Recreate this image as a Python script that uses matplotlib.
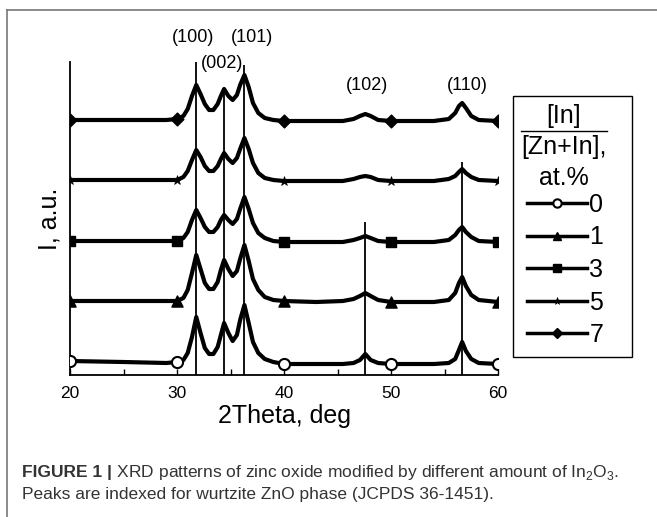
import matplotlib
matplotlib.use('Agg')
import matplotlib.pyplot as plt
from matplotlib.lines import Line2D
from matplotlib.patches import Rectangle

plt.rcParams['font.family'] = ['Liberation Sans', 'DejaVu Sans']
plt.rcParams['mathtext.fontset'] = 'custom'
plt.rcParams['mathtext.rm'] = 'Liberation Sans'

# 2Theta sampling points (deg)
two_theta = [20, 25, 29, 30, 30.6, 31.0, 31.4, 31.8, 32.2, 32.6, 33.0, 33.4, 33.8,
             34.1, 34.4, 34.8, 35.2, 35.6, 35.9, 36.3, 36.7, 37.1, 37.6, 38.2, 39,
             40, 43, 45.5, 46.5, 47.1, 47.6, 48.1, 48.8, 50, 54, 55.4, 56.0, 56.35,
             56.65, 57.0, 57.5, 58.2, 60]

# intensity (a.u., stacked)
int_0 = [14, 13, 12, 13, 15, 22, 38, 58, 42, 27, 21, 21, 28, 40, 52, 42, 34, 40, 55,
         70, 52, 33, 22, 16, 13, 11, 11, 11, 12, 15, 21, 15, 12, 11, 11, 12, 16, 25,
         33, 24, 16, 12, 11]
int_1 = [74, 74, 74, 74, 77, 85, 102, 120, 106, 92, 86, 86, 93, 105, 115, 106, 99,
         104, 116, 130, 114, 96, 85, 78, 75, 74, 73, 74, 76, 79, 82, 79, 75, 73, 73,
         75, 82, 92, 98, 89, 80, 75, 73]
int_3 = [134, 134, 134, 134, 137, 143, 155, 165, 157, 148, 143, 143, 148, 155, 160,
         155, 151, 156, 166, 178, 166, 152, 142, 137, 134, 133, 133, 133, 135, 137,
         139, 137, 134, 133, 133, 135, 140, 145, 148, 143, 138, 134, 133]
int_5 = [195, 195, 195, 195, 198, 204, 215, 225, 218, 209, 204, 204, 209, 216, 222,
         216, 212, 217, 226, 237, 226, 212, 202, 197, 195, 194, 194, 194, 196, 198,
         199, 198, 195, 194, 194, 196, 199, 203, 206, 202, 198, 195, 194]
int_7 = [255, 255, 255, 256, 259, 266, 279, 290, 281, 271, 265, 265, 271, 279, 286,
         279, 275, 280, 290, 300, 288, 272, 262, 257, 255, 254, 254, 254, 256, 259,
         261, 259, 255, 254, 254, 256, 262, 269, 272, 267, 259, 255, 254]

series = [('0', int_0), ('1', int_1), ('3', int_3), ('5', int_5), ('7', int_7)]
marker_x = [20, 30, 40, 50, 60]

# reference ZnO (JCPDS 36-1451) lines
ref_pos = [31.77, 34.42, 36.25, 47.54, 56.60]
ref_top = [313, 287, 310, 153, 213]
hkl = ['(100)', '(002)', '(101)', '(102)', '(110)']
hkl_x = [31.5, 34.2, 37.0, 47.8, 57.1]
hkl_y = [337, 312, 337, 290, 290]

# marker, size, face colour, edge width
styles = {
    '0': ('o', 8, 'white', 1.5),
    '1': ('^', 8, 'black', 1.0),
    '3': ('s', 7, 'black', 1.0),
    '5': ('*', 7, 'black', 0.5),
    '7': ('D', 6.5, 'black', 1.0),
}

fig = plt.figure(figsize=(6.57, 5.17), dpi=100)
ax = fig.add_axes([70 / 657, 142 / 517, 428 / 657, 313 / 517])

mark_idx = [two_theta.index(m) for m in marker_x]
handles = []
for name, vals in series:
    mk, ms, fc, mew = styles[name]
    ax.plot(two_theta, vals, color='black', lw=3, solid_joinstyle='round')
    ax.scatter([two_theta[i] for i in mark_idx], [vals[i] for i in mark_idx],
               marker=mk, s=ms ** 2, facecolor=fc, edgecolor='black',
               linewidths=mew, zorder=3)
    handles.append(Line2D([], [], color='black', lw=2.5, marker=mk, ms=ms * 0.75,
                          mfc=fc, mec='black', mew=mew, label=name))

ax.vlines(ref_pos, 0, ref_top, color='black', lw=1.3)
for lab, lx, ly in zip(hkl, hkl_x, hkl_y):
    ax.text(lx, ly, lab, ha='center', va='center', fontsize=13)

ax.set_xlim(20, 60)
ax.set_ylim(0, 313)
ax.set_xticks([20, 30, 40, 50, 60])
ax.set_xticks([25, 35, 45, 55], minor=True)
ax.set_yticks([])
ax.tick_params(axis='x', which='both', direction='in', length=4, width=1,
               labelsize=12.5, pad=8)
for s in ['top', 'right']:
    ax.spines[s].set_visible(False)
ax.spines['bottom'].set_linewidth(1.3)
ax.spines['left'].set_linewidth(1.3)
ax.set_xlabel('2Theta, deg', fontsize=18, labelpad=2)
ax.set_ylabel('I, a.u.', fontsize=18, labelpad=6)

# legend
fig.add_artist(Rectangle((513 / 657, 1 - 357 / 517), 119 / 657, 261 / 517,
                         transform=fig.transFigure, fill=False, ec='black', lw=1))
fig.text(564 / 657, 1 - 116 / 517, '[In]', ha='center', va='center', fontsize=18)
fig.add_artist(Line2D([521 / 657, 607 / 657], [1 - 131 / 517, 1 - 131 / 517],
                      transform=fig.transFigure, color='black', lw=1))
fig.text(564 / 657, 1 - 147 / 517, '[Zn+In],', ha='center', va='center', fontsize=18)
fig.text(564 / 657, 1 - 178 / 517, 'at.%', ha='center', va='center', fontsize=18)
fig.legend(handles=handles, loc='upper left',
           bbox_to_anchor=(527 / 657, 1 - 193 / 517), frameon=False,
           fontsize=18, handlelength=2.4, handletextpad=0.1,
           labelspacing=0.34, borderpad=0, borderaxespad=0)

# panel frame
fig.add_artist(Line2D([7 / 657, 1], [1 - 10 / 517, 1 - 10 / 517],
                      transform=fig.transFigure, color='#777777', lw=1.2))
fig.add_artist(Line2D([7 / 657, 7 / 657], [0, 1 - 10 / 517],
                      transform=fig.transFigure, color='#777777', lw=1.2))

# caption
t1 = fig.text(22 / 657, 1 - 472 / 517, 'FIGURE 1 |', fontsize=12.5, weight='bold',
              color='#333333', va='center')
ax.annotate(' XRD patterns of zinc oxide modified by different amount of '
            'In$_2$O$_3$.', xy=(1, 0.5), xycoords=t1, va='center',
            fontsize=12.5, color='#333333', annotation_clip=False)
fig.text(22 / 657, 1 - 495 / 517,
         'Peaks are indexed for wurtzite ZnO phase (JCPDS 36-1451).',
         fontsize=12.5, color='#333333', va='center')

fig.savefig('out.png', dpi=100)
